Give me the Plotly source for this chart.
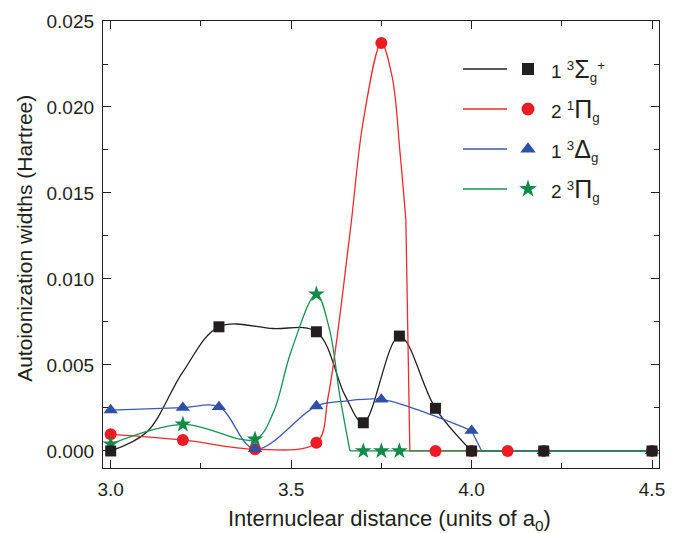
import plotly.graph_objects as go

# ---------------- data ----------------
sigma_x = [3.0, 3.3, 3.57, 3.7, 3.8, 3.9, 4.0, 4.2, 4.5]
sigma_y = [0.0, 0.00722, 0.00693, 0.00164, 0.00668, 0.00248, 0.0, 0.0, 0.0]

pi1_x = [3.0, 3.2, 3.4, 3.57, 3.75, 3.9, 4.0, 4.1, 4.2, 4.5]
pi1_y = [0.00097, 0.00064, 0.0001, 0.00048, 0.02372, 0.0, 0.0, 0.0, 0.0, 0.0]

delta_x = [3.0, 3.2, 3.3, 3.4, 3.57, 3.75, 4.0, 4.2, 4.5]
delta_y = [0.00238, 0.00252, 0.00256, 0.00012, 0.00261, 0.0030, 0.00118, 0.0, 0.0]

pi3_x = [3.0, 3.2, 3.4, 3.57, 3.7, 3.75, 3.8]
pi3_y = [0.0004, 0.00155, 0.00068, 0.00912, 0.0, 0.0, 0.0]

# smooth-curve nodes (spline part) and straight tails
sigma_cx = [3.0, 3.1, 3.2, 3.3, 3.45, 3.57, 3.65, 3.7, 3.8, 3.9, 4.0]
sigma_cy = [0.0, 0.0011, 0.0046, 0.00722, 0.00712, 0.00693, 0.0032, 0.00164, 0.00668, 0.00248, 0.0]
sigma_tx = [4.0, 4.5]
sigma_ty = [0.0, 0.0]

pi1_cx = [3.0, 3.2, 3.4, 3.57, 3.603, 3.663, 3.70, 3.75, 3.78, 3.802, 3.818]
pi1_cy = [0.00097, 0.00064, 0.0001, 0.00048, 0.0032, 0.01265, 0.0192, 0.0237, 0.02175, 0.0173, 0.0134]
pi1_tx = [3.818, 3.829, 4.5]
pi1_ty = [0.0134, 0.0, 0.0]

delta_cx = [3.0, 3.2, 3.3, 3.4, 3.57, 3.65, 3.75, 3.876, 4.0]
delta_cy = [0.00238, 0.00252, 0.00256, 0.0001, 0.00261, 0.0029, 0.0030, 0.0022, 0.00118]
delta_tx = [4.0, 4.028, 4.5]
delta_ty = [0.00118, 0.0, 0.0]

pi3_cx = [3.0, 3.2, 3.4, 3.45, 3.5, 3.57, 3.607, 3.635, 3.663]
pi3_cy = [0.0004, 0.00155, 0.00068, 0.0022, 0.0058, 0.00912, 0.0070, 0.0032, 0.0]
pi3_tx = [3.663, 4.5]
pi3_ty = [0.0, 0.0]

greek = ["Σ", "Π", "Δ", "Π"]
labels = ["1 <sup>3</sup>{g}<sub>g</sub><sup>+</sup>",
          "2 <sup>1</sup>{g}<sub>g</sub>",
          "1 <sup>3</sup>{g}<sub>g</sub>",
          "2 <sup>3</sup>{g}<sub>g</sub>"]

x_title = "Internuclear distance (units of a<sub>0</sub>)"
y_title = "Autoionization widths (Hartree)"
x_ticks = [3.0, 3.5, 4.0, 4.5]
y_ticks = [0.0, 0.005, 0.010, 0.015, 0.020, 0.025]

# ---------------- styles ----------------
C_BLACK = "#231f20"
C_RED = "#ed1c24"
C_BLUE = "#3050a4"
C_GREEN = "#0f8a48"
LINE_RED = "#ee2a30"
LINE_BLUE = "#3a5bb0"
LINE_GREEN = "#17924f"
FONT = "Liberation Sans, Arial, sans-serif"

fig = go.Figure()

def curve(x, y, color, shape):
    fig.add_trace(go.Scatter(x=x, y=y, mode="lines", showlegend=False, hoverinfo="skip",
                             line=dict(color=color, width=1.3, shape=shape, smoothing=1.0)))

curve(sigma_cx, sigma_cy, C_BLACK, "spline")
curve(sigma_tx, sigma_ty, C_BLACK, "linear")
curve(pi1_cx, pi1_cy, LINE_RED, "spline")
curve(pi1_tx, pi1_ty, LINE_RED, "linear")
curve(delta_cx, delta_cy, LINE_BLUE, "spline")
curve(delta_tx, delta_ty, LINE_BLUE, "linear")
curve(pi3_cx, pi3_cy, LINE_GREEN, "spline")
curve(pi3_tx, pi3_ty, LINE_GREEN, "linear")

MK = {"sq": (C_BLACK, "square", 11), "ci": (C_RED, "circle", 12),
      "tr": (C_BLUE, "triangle-up", 12.5), "st": (C_GREEN, "star", 12.5)}

def pts(x, y, key):
    c, s, z = MK[key]
    fig.add_trace(go.Scatter(x=x, y=y, mode="markers", showlegend=False,
                             marker=dict(color=c, symbol=s, size=z, line=dict(width=0))))

pts(pi1_x, pi1_y, "ci")
pts(pi3_x, pi3_y, "st")
pts(delta_x, delta_y, "tr")
pts(sigma_x, sigma_y, "sq")

# ---------------- custom legend (overlay axes in pixel units) ----------------
leg_rows = [69, 109, 149, 189]
leg_line_colors = [C_BLACK, LINE_RED, LINE_BLUE, LINE_GREEN]
leg_keys = ["sq", "ci", "tr", "st"]
for row, lc, key, lab, g in zip(leg_rows, leg_line_colors, leg_keys, labels, greek):
    c, s, z = MK[key]
    fig.add_trace(go.Scatter(x=[463, 507], y=[row, row], mode="lines", xaxis="x2", yaxis="y2",
                             showlegend=False, hoverinfo="skip", line=dict(color=lc, width=1.3)))
    fig.add_trace(go.Scatter(x=[528], y=[row], mode="markers", xaxis="x2", yaxis="y2",
                             showlegend=False, hoverinfo="skip",
                             marker=dict(color=c, symbol=s, size=z + 1, line=dict(width=0))))
    txt = lab.replace("{g}", '<span style="font-size:25px">' + g + '</span>')
    fig.add_annotation(x=549, y=row + 1, xref="x2", yref="y2", text=txt, showarrow=False,
                       xanchor="left", yanchor="middle", font=dict(family=FONT, size=19, color=C_BLACK))

# axis titles as annotations (fixed placement)
fig.add_annotation(x=0.516, y=-0.116, xref="paper", yref="paper", text=x_title, showarrow=False,
                   xanchor="center", yanchor="middle", font=dict(family=FONT, size=22, color=C_BLACK))
fig.add_annotation(x=-0.14, y=0.513, xref="paper", yref="paper", text=y_title, showarrow=False,
                   textangle=-90, xanchor="center", yanchor="middle",
                   font=dict(family=FONT, size=21, color=C_BLACK))

axis_common = dict(showgrid=False, zeroline=False, showline=True, linecolor=C_BLACK, linewidth=1.3,
                   mirror="ticks", ticks="inside", ticklen=8, tickwidth=1.3, tickcolor=C_BLACK,
                   automargin=False, tickfont=dict(family=FONT, size=19, color=C_BLACK))

fig.update_layout(
    width=679, height=533,
    margin=dict(l=103, r=20, t=21, b=65),
    paper_bgcolor="white", plot_bgcolor="white",
    showlegend=False,
    xaxis=dict(range=[2.9787, 4.5194], tickvals=x_ticks, ticktext=[f"{v:.1f}" for v in x_ticks],
               ticklabelstandoff=4,
               minor=dict(dtick=0.25, tick0=3.0, ticks="inside", ticklen=5, tickcolor=C_BLACK, tickwidth=1.3),
               **axis_common),
    yaxis=dict(range=[-0.00099, 0.025], tickvals=y_ticks, ticktext=[f"{v:.3f}" for v in y_ticks],
               ticklabelstandoff=4,
               minor=dict(dtick=0.0025, tick0=0.0, ticks="inside", ticklen=5, tickcolor=C_BLACK, tickwidth=1.3),
               **axis_common),
    xaxis2=dict(overlaying="x", range=[103, 659], visible=False, fixedrange=True),
    yaxis2=dict(overlaying="y", range=[468, 21], visible=False, fixedrange=True),
)

fig.write_html("out.html")
